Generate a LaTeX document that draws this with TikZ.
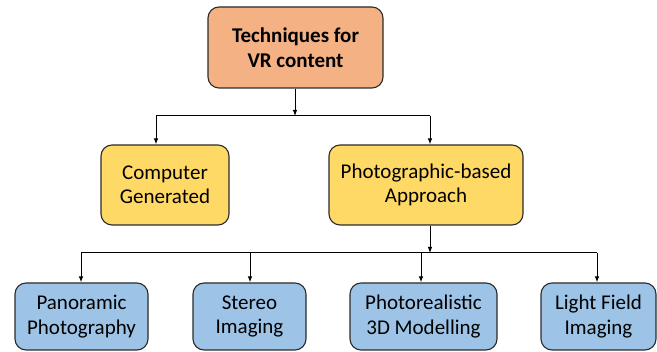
\documentclass[tikz,border=0pt]{standalone}
\usepackage{fontspec}
\setmainfont{Carlito}
\usetikzlibrary{arrows.meta}
\definecolor{orangefill}{HTML}{F4B183}
\definecolor{yellowfill}{HTML}{FFD966}
\definecolor{bluefill}{HTML}{9DC3E6}
\definecolor{edgegray}{HTML}{2B2B2B}
\begin{document}
\begin{tikzpicture}[x=1pt,y=-1pt,
  box/.style={draw=edgegray, line width=1.1pt, rounded corners=11pt, align=center,
    inner sep=0pt, font=\fontsize{21}{24.5}\selectfont, text=black},
  conn/.style={line width=1pt, draw=black, -{Latex[length=6pt,width=4.5pt]}},
  seg/.style={line width=1pt, draw=black}]
\useasboundingbox (0,0) rectangle (657,352);
\node[box, fill=orangefill, minimum width=175pt, minimum height=81pt, font=\fontsize{21}{24.5}\selectfont\bfseries] (top) at (295.5,47.5) {Techniques for\\VR content};
\node[box, fill=yellowfill, minimum width=128pt, minimum height=80pt] (cg) at (165,185) {Computer\\Generated};
\node[box, fill=yellowfill, minimum width=194pt, minimum height=80pt] (pb) at (426,185) {Photographic-based\\Approach};
\node[box, fill=bluefill, minimum width=133pt, minimum height=67pt] (pan) at (81.5,316.5) {Panoramic\\Photography};
\node[box, fill=bluefill, minimum width=113pt, minimum height=67pt] (ste) at (249.5,316.5) {Stereo\\Imaging};
\node[box, fill=bluefill, minimum width=147pt, minimum height=67pt] (pho) at (423.5,316.5) {Photorealistic\\3D Modelling};
\node[box, fill=bluefill, minimum width=115pt, minimum height=67pt] (lf) at (598.5,316.5) {Light Field\\Imaging};
% level 1 connectors
\coordinate (j1) at (295,116);
\coordinate (j1l) at (156,116);
\coordinate (j1r) at (430,116);
\draw[conn] (top.south -| j1) -- (j1);
\draw[seg] (j1l) -- (j1r);
\draw[conn] (j1l) -- (j1l |- cg.north);
\draw[conn] (j1r) -- (j1r |- pb.north);
% level 2 connectors
\coordinate (j2) at (430,253);
\coordinate (a1) at (81,253);
\coordinate (a2) at (250,253);
\coordinate (a3) at (421,253);
\coordinate (a4) at (597,253);
\draw[conn] (pb.south -| j2) -- (j2);
\draw[seg] (a1) -- (a4);
\draw[conn] (a1) -- (a1 |- pan.north);
\draw[conn] (a2) -- (a2 |- ste.north);
\draw[conn] (a3) -- (a3 |- pho.north);
\draw[conn] (a4) -- (a4 |- lf.north);
\end{tikzpicture}
\end{document}
